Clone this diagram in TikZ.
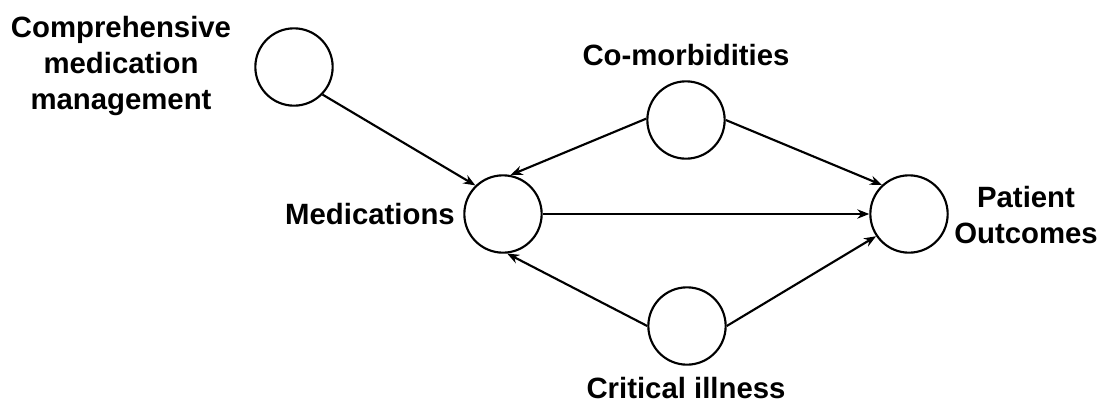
\documentclass[tikz,border=0pt]{standalone}
\usepackage{fontspec}
\setmainfont{Liberation Sans}
\usetikzlibrary{arrows.meta}
\begin{document}
\begin{tikzpicture}[x=0.75pt,y=-0.75pt,
        var/.style={draw,circle,line width=1.6pt,minimum size=58pt,inner sep=0pt},
        lbl/.style={font=\fontsize{22}{27}\selectfont\bfseries,align=center,inner sep=1pt},
        edge/.style={line width=1.6pt,-{Stealth[length=9pt,width=7pt]}}]
        \useasboundingbox (0,0) rectangle (1098,404);
        \node[var] (cmm) at (294,67) {};
        \node[var] (med) at (503,214) {};
        \node[var] (como) at (686,120) {};
        \node[var] (crit) at (687,326) {};
        \node[var] (pat) at (909,214) {};
        \node[lbl] (cmmlbl) at (121,66) {Comprehensive\\medication\\management};
        \node[lbl] (medlbl) at (370,214) {Medications};
        \node[lbl] (comolbl) at (686,55) {Co-morbidities};
        \node[lbl] (critlbl) at (686,388) {Critical illness};
        \node[lbl] (patlbl) at (1026,215) {Patient\\Outcomes};
        \draw[edge] (cmm.316) -- (med.134);
        \draw[edge] (como.178) -- (med.79);
        \draw[edge] (como.0) -- (pat.133);
        \draw[edge] (med) -- (pat);
        \draw[edge] (crit.180) -- (med.276);
        \draw[edge] (crit.0) -- (pat.214);
    \end{tikzpicture}
\end{document}
